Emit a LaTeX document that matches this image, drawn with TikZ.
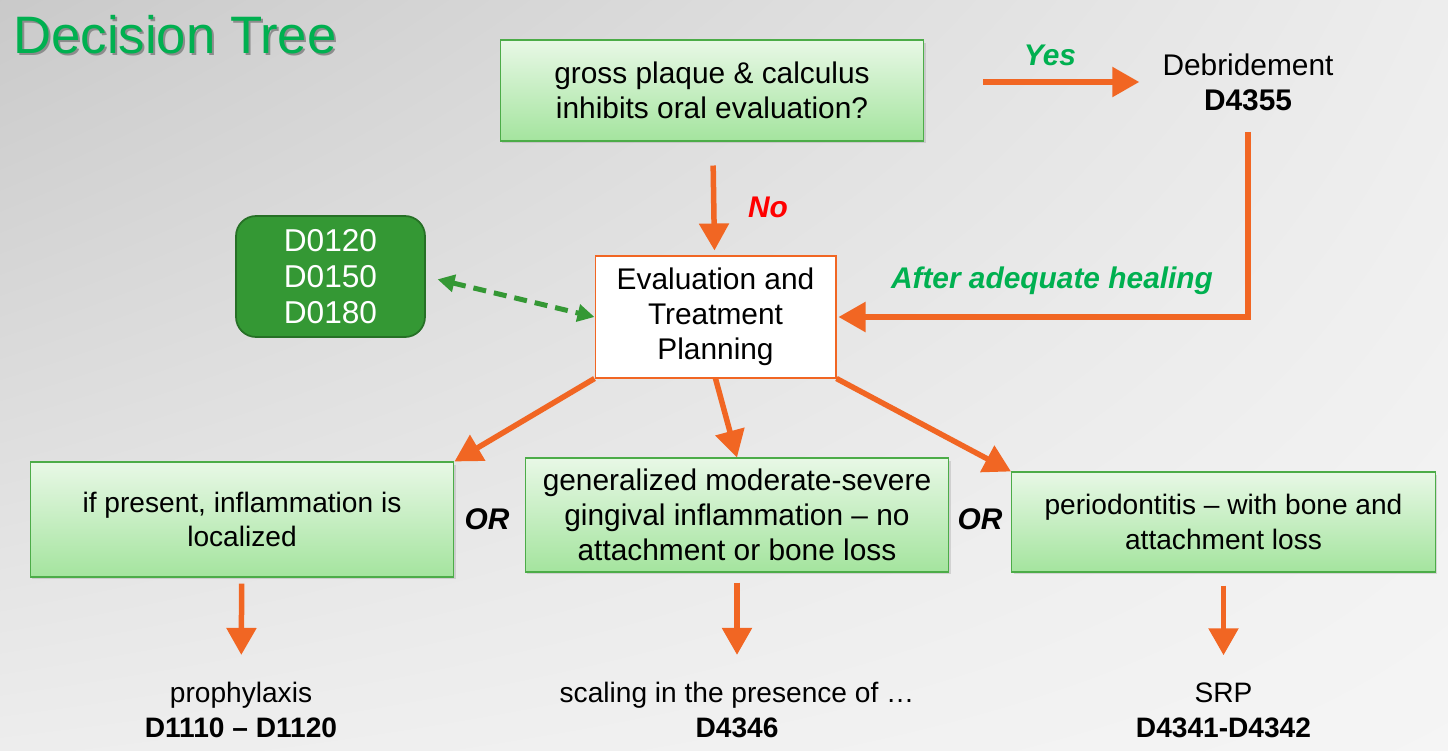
\documentclass[tikz,border=0pt]{standalone}
\usepackage{fontspec}
\setmainfont{Liberation Sans}
\usetikzlibrary{arrows.meta,shadows,shadings}

\definecolor{TitleGreen}{RGB}{0,176,80}
\definecolor{ArrowOrange}{RGB}{241,102,35}
\definecolor{BoxTop}{RGB}{232,248,230}
\definecolor{BoxBottom}{RGB}{164,228,158}
\definecolor{BoxBorder}{RGB}{76,172,72}
\definecolor{CodeGreen}{RGB}{52,152,52}
\definecolor{CodeBorder}{RGB}{38,112,38}
\definecolor{NoRed}{RGB}{255,0,0}

\tikzstyle{dt-box-base}=[rectangle,
                         draw=BoxBorder,
                         line width=0.6pt,
                         text centered,
                         align=center,
                         top color=BoxTop,
                         bottom color=BoxBottom,
                         drop shadow={shadow xshift=0.04cm, shadow yshift=-0.05cm, opacity=0.25}
                        ]
\tikzstyle{question}=[dt-box-base, minimum width=8.48cm, minimum height=2.02cm]
\tikzstyle{finding}=[dt-box-base, minimum width=8.48cm, minimum height=2.28cm]
\tikzstyle{planning}=[rectangle, draw=ArrowOrange, line width=0.6pt, fill=white,
                      align=center, minimum width=4.82cm, minimum height=2.44cm]
\tikzstyle{codes}=[rectangle, rounded corners=0.4cm, draw=CodeBorder, line width=1pt,
                   fill=CodeGreen, text=white, align=center,
                   minimum width=3.78cm, minimum height=2.42cm,
                   font=\fontsize{18}{20.5}\selectfont]
\tikzstyle{result}=[align=center, font=\fontsize{16}{20}\selectfont]
\tikzstyle{branch}=[font=\fontsize{17}{20}\selectfont\bfseries\itshape]
\tikzstyle{flow}=[draw=ArrowOrange, line width=0.11cm,
                  -{Triangle[width=0.58cm, length=0.54cm]}]

\begin{document}
\begin{tikzpicture}[x=0.02cm, y=-0.02cm,
    every node/.style={font=\fontsize{17}{20}\selectfont}]

\useasboundingbox (0,0) rectangle (1448,751);
\shade[upper left=black!21, upper right=black!7, lower left=black!7, lower right=black!4]
  (0,0) rectangle (1448,751);

\node at (177,37) (titleshadow) [text=black!45, font=\fontsize{30}{34}\selectfont] {Decision Tree};
\node at (175,35) (title) [text=TitleGreen, font=\fontsize{30}{34}\selectfont] {Decision Tree};

\node at (712,90.5) (question) [question] {gross plaque \& calculus\\inhibits oral evaluation?};
\node at (1248,82) (debr) [align=center] {Debridement\\\textbf{D4355}};
\coordinate (yesstart) at (983,82);
  \node at (1050,55) (yeslabel) [branch, text=TitleGreen] {Yes};
  \node at (768,207) (nolabel) [branch, text=NoRed] {No};

\node at (715.5,317) (evaluation) [planning] {Evaluation and\\Treatment\\Planning};
\node at (330.5,276.5) (codes) [codes] {D0120\\D0150\\D0180};
  \node at (1052,281) (healinglabel) [branch, text=TitleGreen] {After adequate healing};

\node at (242,519.5) (localized) [finding, minimum height=2.3cm, font=\fontsize{16}{19.5}\selectfont] {if present, inflammation is\\localized};
\node at (737,515) (gingivitis) [finding] {generalized moderate-severe\\gingival inflammation -- no\\attachment or bone loss};
\node at (1223.5,522) (periodontitis) [finding, minimum height=2.0cm, font=\fontsize{16}{19.5}\selectfont] {periodontitis -- with bone and\\attachment loss};
  \node at (487,519) (orleft) [branch] {OR};
  \node at (980,519) (orright) [branch] {OR};

\node at (241,710) (prophy) [result] {prophylaxis\\\textbf{D1110 -- D1120}};
\node at (737,710) (scaling) [result] {scaling in the presence of …\\\textbf{D4346}};
\node at (1223.5,710) (srp) [result] {SRP\\\textbf{D4341-D4342}};

\draw[flow, shorten >=0.34cm] (yesstart) -- (debr);
\draw[flow, shorten <=0.48cm, shorten >=0.1cm] (question) -- (evaluation);
\draw[flow, shorten <=0.3cm, shorten >=0.04cm] (debr.south) |- (evaluation.east);
\draw[draw=CodeGreen, line width=0.1cm, dash pattern=on 0.26cm off 0.16cm,
      {Triangle[width=0.34cm, length=0.34cm]}-{Triangle[width=0.34cm, length=0.34cm]},
      shorten <=0.24cm] (codes.east) -- (evaluation.west);

\draw[flow] (evaluation.south west) -- (localized.north east);
\draw[flow] (evaluation.south) -- (gingivitis.north);
\draw[flow] (evaluation.south east) -- (periodontitis.north west);

\draw[flow, shorten <=0.12cm, shorten >=0.42cm] (localized) -- (prophy);
\draw[flow, shorten <=0.2cm, shorten >=0.42cm] (gingivitis) -- (scaling);
\draw[flow, shorten <=0.26cm, shorten >=0.42cm] (periodontitis) -- (srp);

\end{tikzpicture}
\end{document}
